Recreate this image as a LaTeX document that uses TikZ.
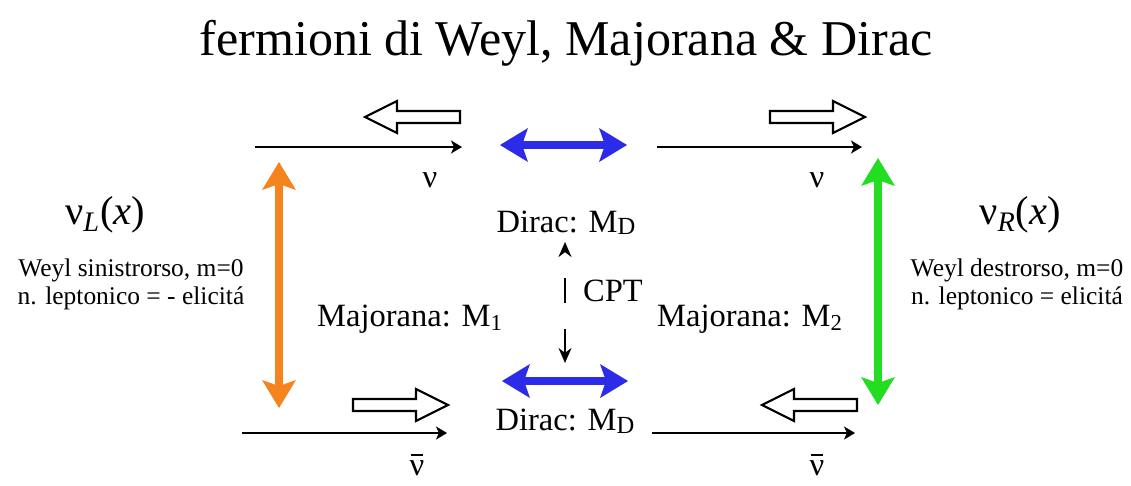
\documentclass[tikz,border=0pt]{standalone}
\usepackage{fontspec}
\setmainfont{Liberation Serif}
\usetikzlibrary{arrows.meta,positioning}
\definecolor{wlorange}{HTML}{F5841F}
\definecolor{wlgreen}{HTML}{22DD22}
\definecolor{wlblue}{HTML}{2B2BE8}

% hollow helicity arrow: tail x, y, direction (1 right, -1 left)
\newcommand{\helicity}[3]{%
  \begin{scope}[shift={(#1,#2)}, xscale=#3]
    \draw[helix] (0,-6) -- (63,-6) -- (63,-16) -- (95,0) -- (63,16) -- (63,6) -- (0,6) -- cycle;
  \end{scope}}
\newcommand{\massD}{M\raisebox{-0.2ex}{\fontsize{14}{14}\selectfont D}}

\tikzset{
  headline/.style={inner sep=0pt, font=\fontsize{28.5}{32}\selectfont},
  txt/.style={inner sep=0pt, font=\fontsize{18.5}{20}\selectfont},
  note/.style={inner sep=0pt, align=center, font=\fontsize{14.5}{16}\selectfont},
  field/.style={inner sep=0pt, font=\fontsize{23}{25}\selectfont},
  helix/.style={line width=1.2pt, fill=white, line join=miter},
  antibar/.style={line width=0.9pt},
  prop/.style={line width=1.1pt, -{Stealth[length=0.22cm,width=0.26cm,inset=0.06cm]}},
  mass/.style={line width=0.16cm,
    {Stealth[length=0.56cm,width=0.68cm,inset=0.12cm,line width=0pt]}-{Stealth[length=0.56cm,width=0.68cm,inset=0.12cm,line width=0pt]}},
  cpt/.style={line width=1.1pt, dash pattern=on 0.5cm off 0.52cm,
    {Stealth[length=0.3cm,width=0.26cm]}-{Stealth[length=0.3cm,width=0.26cm]}}
}

\begin{document}
\begin{tikzpicture}[x=0.02cm, y=-0.02cm]
  \useasboundingbox[fill=white] (0,0) rectangle (1131,485);

  \node[headline, anchor=base] (title) at (566,55) {fermioni di Weyl, Majorana \& Dirac};

  % left and right Weyl fields
  \node[field] (nuL) at (105,215) {ν\textsubscript{\textit{L}}(\textit{x})};
  \node[note] (weylL) at (131,284) {Weyl sinistrorso, m=0\\n. leptonico = - elicitá};
  \node[field] (nuR) at (1020,215) {ν\textsubscript{\textit{R}}(\textit{x})};
  \node[note] (weylR) at (1017,284) {Weyl destrorso, m=0\\n. leptonico = elicitá};

  % mass terms
  \node[txt, anchor=base] (diracT) at (566,232) {Dirac: \massD};
  \node[txt, anchor=base] (diracB) at (565,430) {Dirac: \massD};
  \node[txt, anchor=base] (majL) at (410,326) {Majorana: M\textsubscript{1}};
  \node[txt, anchor=base] (majR) at (750,326) {Majorana: M\textsubscript{2}};
  \node[txt, anchor=base] (cptlab) at (613,301) {CPT};

  % particle labels
  \node[txt] (nuTL) at (430,180) {ν};
  \node[txt] (nuTR) at (817,180) {ν};
  \node[txt] (nubBL) at (417,468) {ν};
  \node[txt] (nubBR) at (817,468) {ν};
  \draw[antibar] ([xshift=-3.2pt,yshift=3pt]nubBL.north) -- ++(6.4pt,0);
  \draw[antibar] ([xshift=-3.2pt,yshift=3pt]nubBR.north) -- ++(6.4pt,0);

  % propagation lines
  \coordinate (tla) at (255,147);
  \coordinate (tlb) at (462,147);
  \coordinate (tra) at (657,147);
  \coordinate (trb) at (862,147);
  \coordinate (bla) at (242,433);
  \coordinate (blb) at (447,433);
  \coordinate (bra) at (652,433);
  \coordinate (brb) at (855,433);
  \draw[prop] (tla) -- (tlb);
  \draw[prop] (tra) -- (trb);
  \draw[prop] (bla) -- (blb);
  \draw[prop] (bra) -- (brb);

  % helicities
  \helicity{460}{117}{-1}
  \helicity{770}{117}{1}
  \helicity{353}{405}{1}
  \helicity{857}{405}{-1}

  % mass couplings
  \coordinate (dta) at (500,145);
  \coordinate (dtb) at (627,145);
  \coordinate (dba) at (502,381);
  \coordinate (dbb) at (628,381);
  \coordinate (mla) at (279,162);
  \coordinate (mlb) at (279,408);
  \coordinate (mra) at (878,158);
  \coordinate (mrb) at (878,405);
  \draw[mass, wlblue] (dta) -- (dtb);
  \draw[mass, wlblue] (dba) -- (dbb);
  \draw[mass, wlorange] (mla) -- (mlb);
  \draw[mass, wlgreen] (mra) -- (mrb);

  % CPT
  \coordinate (cpta) at (565,363);
  \coordinate (cptb) at (565,242);
  \draw[cpt] (cpta) -- (cptb);
\end{tikzpicture}
\end{document}
